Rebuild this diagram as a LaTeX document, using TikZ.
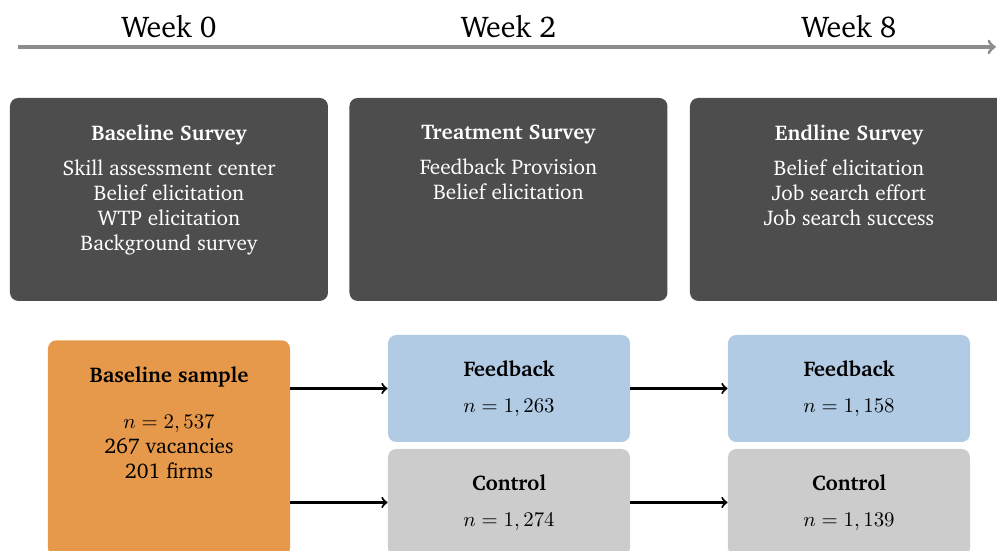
\documentclass[tikz,border=0pt]{standalone}
\usepackage[T1]{fontenc}
\usepackage{charter}
\usetikzlibrary{positioning}
\definecolor{survey}{HTML}{4D4D4D}
\definecolor{sample}{HTML}{E6994A}
\definecolor{treat}{HTML}{B1CBE5}
\definecolor{ctrl}{HTML}{CCCCCC}
\definecolor{timeline}{HTML}{8C8C8C}
\tikzset{every node/.style={font=\fontsize{10.2}{12}\selectfont},
  surveybox/.style={fill=survey,rounded corners=4pt,minimum width=5.365cm,minimum height=3.425cm},
  surveytxt/.style={text=white,align=center,anchor=north},
  groupbox/.style={rounded corners=4pt,minimum width=4.083cm,minimum height=1.805cm,align=center},
  weeklabel/.style={font=\Large},
  flow/.style={->,line width=1pt}}

\begin{document}
\begin{tikzpicture}[x=1cm,y=1cm]
\useasboundingbox (0,0) rectangle (16.82,9.295);
\clip (0,0) rectangle (16.82,9.295);
% Timeline with the three survey weeks.
\coordinate (tstart) at (.304,8.503);\coordinate (tend) at (16.80,8.503);
\draw[->,draw=timeline,line width=1.5pt] (tstart) -- (tend);
\node[weeklabel] (w0) at (2.851,8.84) {Week 0};
\node[weeklabel] (w2) at (8.578,8.84) {Week 2};
\node[weeklabel] (w8) at (14.323,8.84) {Week 8};
% Survey rounds: dark boxes, text hung from the top.
\node[surveybox] (bsurv) at (2.851,5.930) {};
\node[surveytxt] (bsurvtxt) at ([yshift=-.33cm]bsurv.north) {\textbf{Baseline Survey}\\[5pt]Skill assessment center\\Belief elicitation\\WTP elicitation\\Background survey};
\node[surveybox] (tsurv) at (8.578,5.930) {};
\node[surveytxt] (tsurvtxt) at ([yshift=-.33cm]tsurv.north) {\textbf{Treatment Survey}\\[5pt]Feedback Provision\\Belief elicitation};
\node[surveybox] (esurv) at (14.323,5.930) {};
\node[surveytxt] (esurvtxt) at ([yshift=-.33cm]esurv.north) {\textbf{Endline Survey}\\[5pt]Belief elicitation\\Job search effort\\Job search success};
% Sample and treatment arms.
\node[groupbox,fill=sample,minimum height=3.644cm,anchor=north] (base) at (2.851,3.560) {};
\node[surveytxt,text=black] (basetxt) at ([yshift=-.33cm]base.north) {\textbf{Baseline sample}\\[10pt]$n=2,537$\\267 vacancies\\201 firms};
\node[groupbox,fill=treat] (fb1) at (8.587,2.741) {\textbf{Feedback}\\[5pt]$n=1,263$};
\node[groupbox,fill=ctrl] (ct1) at (8.587,0.818) {\textbf{Control}\\[5pt]$n=1,274$};
\node[groupbox,fill=treat] (fb2) at (14.323,2.741) {\textbf{Feedback}\\[5pt]$n=1,158$};
\node[groupbox,fill=ctrl] (ct2) at (14.323,0.818) {\textbf{Control}\\[5pt]$n=1,139$};
\draw[flow] (base.east |- fb1.west) -- (fb1.west);
\draw[flow] (base.east |- ct1.west) -- (ct1.west);
\draw[flow] (fb1) -- (fb2);\draw[flow] (ct1) -- (ct2);
\end{tikzpicture}
\end{document}
